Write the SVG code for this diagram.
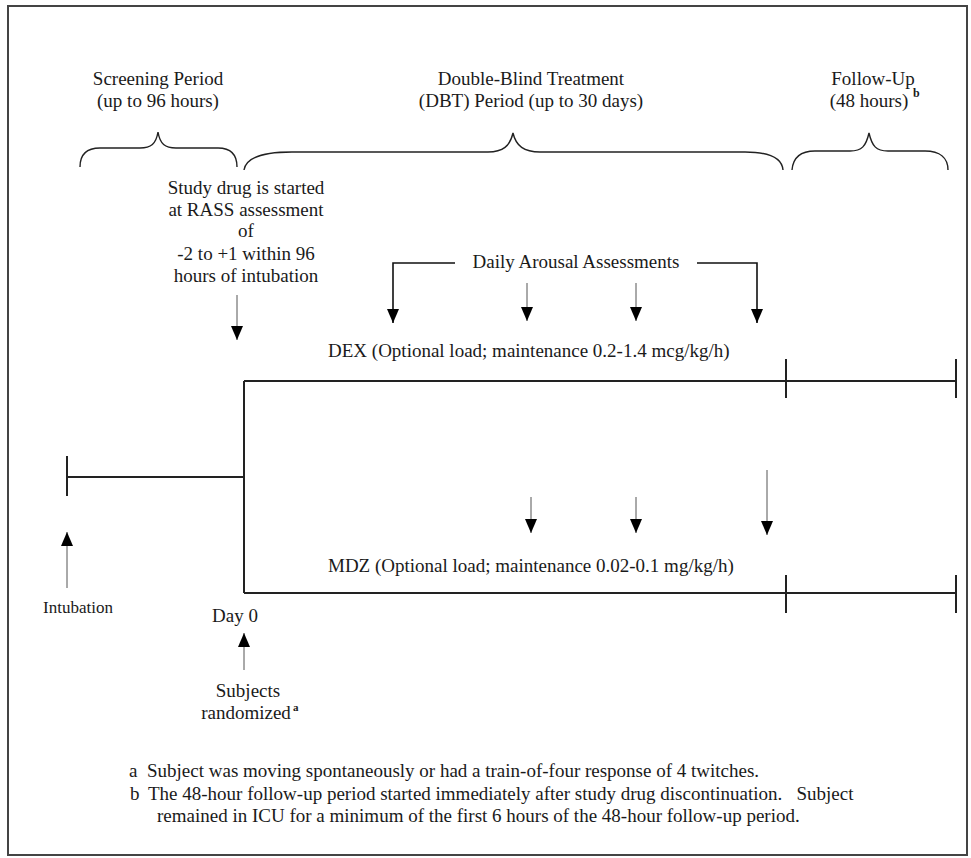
<svg xmlns="http://www.w3.org/2000/svg" width="971" height="858" viewBox="0 0 971 858" font-family="'Liberation Serif', serif">
<defs>
<style>
text{font-family:'Liberation Serif','Times New Roman',serif;font-size:19px;fill:#1a1a1a}
.c{text-anchor:middle}
.sup{font-size:12px;font-weight:bold}
.small{font-size:17px}
.frame{fill:none;stroke:#444;stroke-width:2}
.brace{fill:none;stroke:#222;stroke-width:1.4}
.tl{fill:none;stroke:#222;stroke-width:2}
.br{fill:none;stroke:#111;stroke-width:1.6}
.stem{fill:none;stroke:#555;stroke-width:1}
</style>
<marker id="ah" viewBox="0 0 14 12" refX="14" refY="6" markerWidth="14" markerHeight="12" markerUnits="userSpaceOnUse" orient="auto">
<path d="M0,0 L14,6 L0,12 z" fill="#000"/>
</marker>
</defs>
<rect width="971" height="858" fill="#fff"/>
<rect class="frame" x="8" y="6" width="959" height="849"/>

<g id="screening">
<text class="c" x="158" y="85">Screening Period</text>
<text class="c" x="158" y="107">(up to 96 hours)</text>
<path class="brace" d="M80,167 C80,153 88,148 100,148 L140,148 C151,148 156,144 158,132 C160,144 165,148 176,148 L218,148 C230,148 237,153 237,167"/>
</g>

<g id="dbt">
<text class="c" x="531" y="85">Double-Blind Treatment</text>
<text class="c" x="531" y="107">(DBT) Period (up to 30 days)</text>
<path class="brace" d="M244,170 C246,158 262,152 292,152 L488,152 C503,152 510,146 513,133 C516,146 524,152 540,152 L745,152 C770,152 782,158 783,170"/>
</g>

<g id="followup">
<text class="c" x="873" y="85">Follow-Up</text>
<text class="c" x="869" y="107">(48 hours)</text>
<text class="sup" x="913" y="97">b</text>
<path class="brace" d="M792,170 C793,158 800,151 815,151 L850,151 C862,151 866,146 869,133 C872,146 876,151 888,151 L925,151 C940,151 948,158 948,170"/>
</g>

<g id="study-drug">
<text class="c" x="246" y="194">Study drug is started</text>
<text class="c" x="246" y="216">at RASS assessment</text>
<text class="c" x="246" y="237">of</text>
<text class="c" x="246" y="260">-2 to +1 within 96</text>
<text class="c" x="246" y="282">hours of intubation</text>
</g>

<g id="daily">
<text class="c" x="576" y="268">Daily Arousal Assessments</text>
</g>

<g id="dex">
<text x="328" y="357">DEX (Optional load; maintenance 0.2-1.4 mcg/kg/h)</text>
</g>

<g id="mdz">
<text x="328" y="572">MDZ (Optional load; maintenance 0.02-0.1 mg/kg/h)</text>
</g>

<g id="intubation">
<text class="small" x="43" y="613">Intubation</text>
</g>

<g id="day0">
<text class="c" x="235" y="622">Day 0</text>
</g>

<g id="randomized">
<text class="c" x="248" y="697">Subjects</text>
<text class="c" x="246" y="719">randomized</text>
<text class="sup" x="293" y="711" style="font-size:11px">a</text>
</g>

<g id="connectors">
<path class="tl" d="M67,477 H244 M67,456 V496"/>
<path class="tl" d="M244,381 V593"/>
<path class="tl" d="M244,381 H956 M786,359 V398 M956,359 V398"/>
<path class="tl" d="M244,593 H956 M786,575 V613 M956,575 V613"/>
<path class="stem" d="M237,295 V340" marker-end="url(#ah)"/>
<path class="br" d="M455,263 H393 V323" marker-end="url(#ah)"/>
<path class="stem" d="M527,283 V321" marker-end="url(#ah)"/>
<path class="stem" d="M636,283 V321" marker-end="url(#ah)"/>
<path class="br" d="M697,263 H757 V323" marker-end="url(#ah)"/>
<path class="stem" d="M531,497 V533" marker-end="url(#ah)"/>
<path class="stem" d="M636,497 V533" marker-end="url(#ah)"/>
<path class="stem" d="M767,470 V535" marker-end="url(#ah)"/>
<path class="stem" d="M67,588 V532" marker-end="url(#ah)"/>
<path class="stem" d="M244,670 V633" marker-end="url(#ah)"/>
</g>

<g id="footnotes">
<text x="129" y="777">a</text>
<text x="147" y="777">Subject was moving spontaneously or had a train-of-four response of 4 twitches.</text>
<text x="130" y="800">b</text>
<text x="148" y="800" xml:space="preserve">The 48-hour follow-up period started immediately after study drug discontinuation.   Subject</text>
<text x="157" y="822">remained in ICU for a minimum of the first 6 hours of the 48-hour follow-up period.</text>
</g>
</svg>
